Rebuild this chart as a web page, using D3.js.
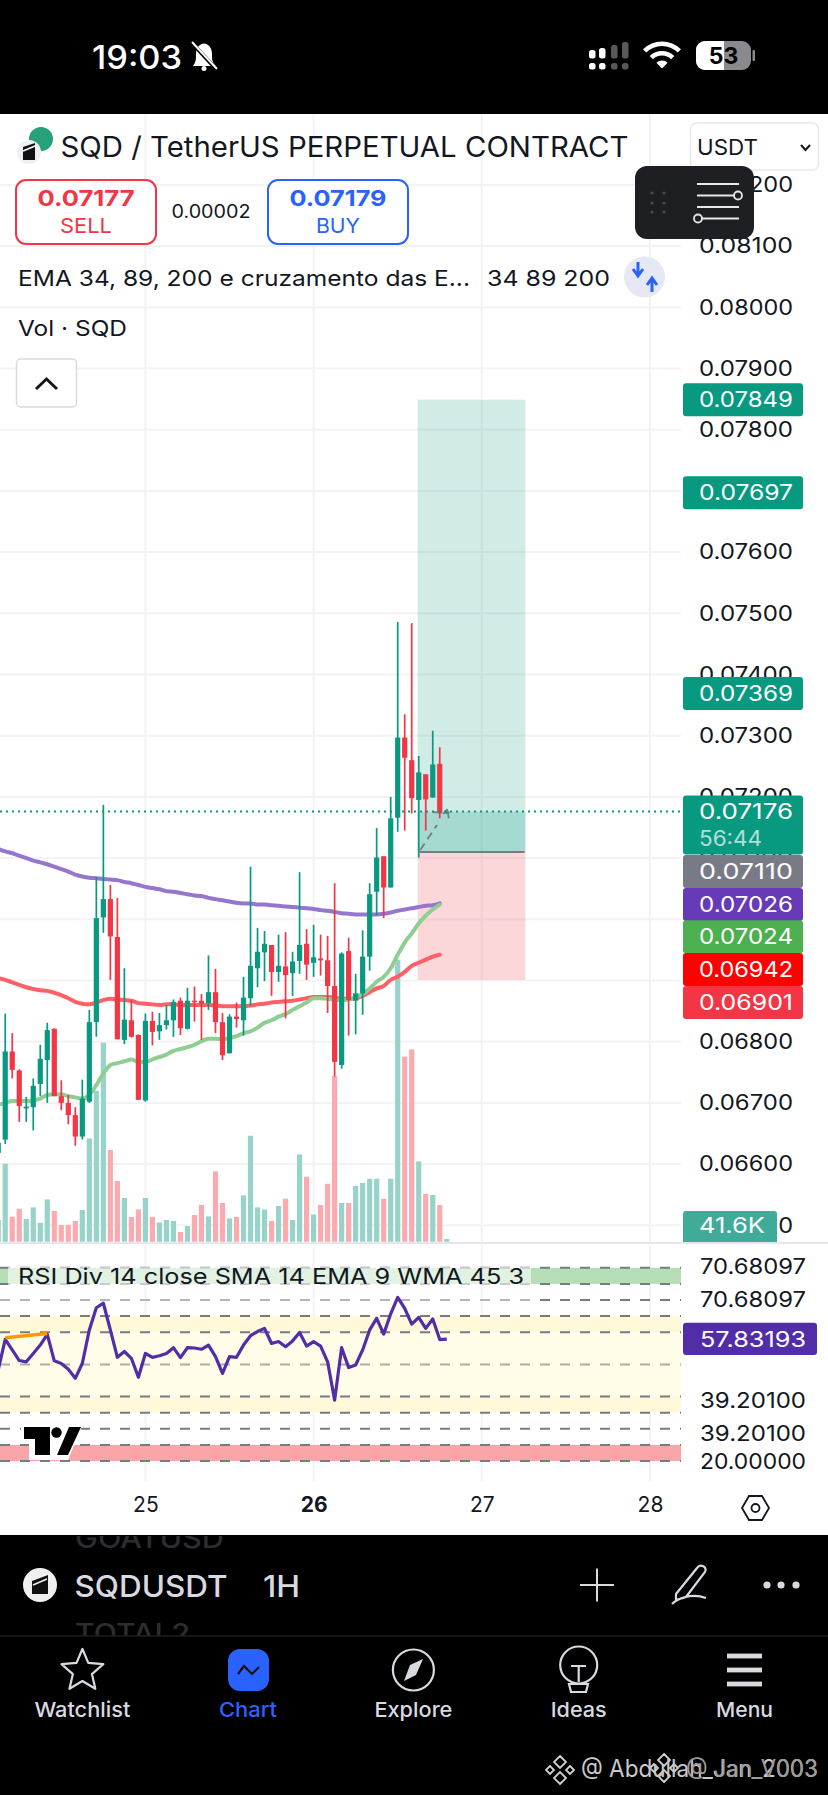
<!DOCTYPE html>
<html><head><meta charset="utf-8">
<script src="https://d3js.org/d3.v7.min.js"></script>
<style>html,body{margin:0;padding:0;background:#000}svg{display:block}text{font-family:Inter,"Noto Sans",sans-serif}</style>
</head><body><svg id="c" width="828" height="1795"></svg>
<script>
// prices are in units of 0.00001 USDT, hours are counted from the "26" day tick
const hours=d3.range(-45,20);
const opens=[6618,6640,6784,6753,6691,6693,6731,6770,6821,6711,6700,6680,6645,6702,6832,7003,7033,6971,6803,6835,6811,6704,6834,6817,6827,6835,6867,6821,6867,6867,6863,6881,6832,6781,6841,6835,6871,6920,6946,6958,6914,6923,6912,6932,6960,6929,6936,6933,6891,6762,6948,6867,6879,6939,7045,7103,7052,7166,7297,7260,7195,7237,7199,7254,7173];
const highs=[6635,6846,6814,6755,6710,6740,6795,6831,6822,6737,6713,6693,6738,6852,7069,7187,7056,7035,6920,6868,6812,6846,6849,6847,6860,6869,6872,6888,6890,6878,6941,6919,6847,6845,6864,6906,7086,6986,6981,6958,6975,6979,6947,7077,6984,6991,6975,6973,7059,6946,6970,6911,6982,7059,7149,7103,7200,7486,7335,7484,7267,7237,7308,7281,7180];
const lows=[6612,6633,6740,6669,6669,6655,6711,6700,6711,6688,6665,6630,6640,6700,6808,6978,6901,6804,6796,6807,6705,6702,6794,6803,6820,6808,6811,6820,6833,6803,6852,6814,6770,6781,6823,6810,6859,6889,6899,6875,6898,6838,6875,6911,6901,6906,6908,6847,6743,6756,6810,6812,6844,6916,7007,7002,7052,7143,7145,7173,7101,7145,7199,7165,7173];
const closes=[6635,6784,6754,6695,6694,6728,6772,6819,6711,6700,6680,6645,6707,6832,7002,7033,6972,6804,6836,6808,6705,6834,6816,6827,6835,6865,6822,6867,6865,6863,6881,6832,6778,6841,6837,6872,6924,6947,6960,6914,6924,6909,6931,6958,6926,6938,6933,6891,6767,6944,6868,6879,6939,7041,7101,7052,7165,7297,7264,7198,7240,7196,7253,7173,7176];
const volumes=[334,1201,385,508,350,528,293,651,473,257,257,319,488,1591,2325,3065,1412,935,673,380,497,673,380,297,334,319,149,242,411,565,390,1083,596,359,380,713,1632,528,497,319,550,662,334,1344,1001,420,565,893,2552,596,596,858,904,970,970,662,970,4343,2849,2961,1237,735,719,565,41.6];
const ema200=[7115,7111,7108,7104,7100,7096,7093,7090,7086,7082,7078,7073,7070,7068,7067,7066,7065,7064,7061,7059,7056,7053,7051,7049,7046,7045,7043,7041,7039,7038,7035,7033,7031,7029,7027,7026,7026,7024,7024,7023,7022,7021,7020,7019,7018,7017,7015,7014,7012,7010,7009,7008,7008,7008,7008,7009,7011,7014,7016,7018,7020,7022,7023,7026];
const ema89=[6904,6901,6897,6893,6889,6886,6884,6883,6880,6876,6871,6865,6862,6861,6864,6868,6870,6869,6868,6867,6863,6862,6861,6860,6861,6861,6860,6860,6860,6860,6860,6859,6858,6858,6858,6858,6859,6861,6862,6864,6865,6866,6867,6869,6871,6873,6873,6873,6872,6870,6870,6871,6875,6881,6887,6891,6901,6906,6914,6924,6929,6934,6939,6942];
const ema34=[6697,6700,6703,6703,6703,6704,6707,6713,6714,6714,6711,6709,6707,6713,6729,6748,6762,6765,6768,6771,6767,6767,6771,6775,6779,6785,6788,6791,6795,6801,6805,6805,6804,6806,6809,6814,6817,6823,6831,6835,6841,6845,6852,6858,6864,6871,6871,6870,6868,6868,6869,6873,6878,6887,6898,6906,6920,6942,6962,6977,6993,7006,7016,7024];
const rsiValues=[48.3,57.8,54.5,51.2,50.8,53.4,56.0,59.3,51.1,50.3,48.5,45.7,50.3,60.7,67.6,69.0,60.7,52.2,54.0,51.9,46.0,53.4,52.2,52.7,53.4,55.2,52.1,55.2,55.1,54.7,56.0,52.4,47.2,52.4,52.2,56.0,58.9,60.2,61.2,56.5,57.1,55.5,57.3,59.9,55.7,57.1,55.7,50.8,38.9,55.2,49.0,49.8,54.5,60.7,64.3,59.4,65.7,70.8,67.4,62.5,64.6,61.2,64.1,57.7,57.83];
const rsiDivHours=[-44,-38], rsiDivValues=[58.3,59.6];
const rsiLevels=[80,75,70,65,60,50,40,35,30,25,20];
const priceTicks=[8200,8100,8000,7900,7800,7700,7600,7500,7400,7300,7200,7100,7000,6900,6800,6700,6600,6500];
const dayHours=[-24,0,24,48], dayLabels=["25","26","27","28"];
const positionHours=[15,30.1], targetPrice=7849, entryPrice=7110, stopPrice=6901, lastPrice=7176;
const tradeHours=[[15.2,17.6],[17,17.9],[18.5,19.1],[19.1,19.4]], tradePrices=[[7113,7154],[7175,7175],[7172,7180],[7178,7158]];
const priceTags=[["0.07849",7849,"#089981"],["0.07697",7697,"#089981"],["0.07369",7369,"#089981"]];
const stackTags=[["0.07110",871.6,"#787b86"],["0.07026",904.4,"#673ab7"],["0.07024",936.8,"#4caf50"],["0.06942",969.6,"#ff0000"],["0.06901",1002.5,"#f23645"]];
const rsiTicks=[["70.68097",1266],["70.68097",1299],["39.20100",1400],["39.20100",1433],["20.00000",1461]];
const navItems=["Watchlist","Chart","Explore","Ideas","Menu"];

const W=681;
const x=d3.scaleLinear().domain([0,48]).range([313.6,650]);
const y=d3.scaleLinear().domain([7800,6500]).range([429.7,1225.3]);
const yVol=d3.scaleLinear().domain([0,4343]).range([1241.7,959.7]);
const yRsi=d3.scaleLinear().domain([20,70]).range([1461,1300]);
const svg=d3.select("#c");
const up="#089981",dn="#f23645",ink="#131722";
function T(px,py,s,o={}){const e=(o.parent||svg).append("text").attr("x",px).attr("y",py).text(s)
 .attr("font-size",o.size||20).attr("font-weight",o.weight||400).attr("fill",o.fill||ink).attr("text-anchor",o.anchor||"start");
 if(o.w)e.attr("textLength",o.w).attr("lengthAdjust","spacingAndGlyphs");return e;}
function R(px,py,w,h,fill,r=0,o=1){return svg.append("rect").attr("x",px).attr("y",py).attr("width",w).attr("height",h).attr("fill",fill).attr("rx",r).attr("fill-opacity",o);}

R(0,0,828,1795,"#000");
R(0,114,828,1421,"#fff");
svg.append("defs").append("clipPath").attr("id","pane").append("rect").attr("x",0).attr("y",114).attr("width",W).attr("height",1128);

// grids
const grid=svg.append("g").attr("stroke","#f3f3f4").attr("stroke-width",2);
grid.selectAll("line.h").data(priceTicks).join("line").attr("x1",0).attr("x2",W).attr("y1",d=>y(d)).attr("y2",d=>y(d));
grid.selectAll("line.v").data(dayHours).join("line").attr("x1",d=>x(d)).attr("x2",d=>x(d)).attr("y1",114).attr("y2",1481);

const pane=svg.append("g").attr("clip-path","url(#pane)");
// volume
pane.append("g").selectAll("rect").data(hours).join("rect")
 .attr("x",d=>x(d)-2.6).attr("width",5.2)
 .attr("y",(d,i)=>yVol(volumes[i])).attr("height",(d,i)=>yVol(0)-yVol(volumes[i]))
 .attr("fill",(d,i)=>closes[i]>=opens[i]?"#97d3c9":"#fbaab0");
// position tool
const px0=x(positionHours[0]),px1=x(positionHours[1]);
pane.append("rect").attr("x",px0-1).attr("width",px1-px0+1.8).attr("y",y(targetPrice)).attr("height",y(entryPrice)-y(targetPrice)).attr("fill",up).attr("fill-opacity",.19);
pane.append("rect").attr("x",px0-1).attr("width",px1-px0+1.8).attr("y",y(lastPrice)).attr("height",y(entryPrice)-y(lastPrice)).attr("fill",up).attr("fill-opacity",.22);
pane.append("rect").attr("x",px0-1).attr("width",px1-px0+1.8).attr("y",y(entryPrice)).attr("height",y(stopPrice)-y(entryPrice)).attr("fill",dn).attr("fill-opacity",.2);
pane.append("line").attr("x1",px0+1).attr("x2",px1).attr("y1",y(entryPrice)).attr("y2",y(entryPrice)).attr("stroke","#787b86").attr("stroke-width",2);
// EMAs
const line=d3.line().x((d,i)=>x(hours[i])).curve(d3.curveMonotoneX);
[[ema200,"#9575cd"],[ema89,"#ff5f66"],[ema34,"#8fce92"]].forEach(([a,c])=>{
 pane.append("path").attr("d",line.y(d=>y(d))(a)).attr("fill","none").attr("stroke",c).attr("stroke-width",4).attr("stroke-linecap","round");});
// candles
const candle=pane.append("g").selectAll("g").data(hours).join("g").attr("fill",(d,i)=>closes[i]>=opens[i]?up:dn);
candle.append("rect").attr("x",d=>x(d)-.85).attr("width",1.7).attr("y",(d,i)=>y(highs[i])).attr("height",(d,i)=>y(lows[i])-y(highs[i]));
candle.append("rect").attr("x",d=>x(d)-2.6).attr("width",5.2)
 .attr("y",(d,i)=>y(Math.max(opens[i],closes[i]))).attr("height",(d,i)=>Math.max(1.6,Math.abs(y(opens[i])-y(closes[i]))));
// trade path
pane.append("g").selectAll("line").data(tradeHours).join("line")
 .attr("x1",d=>x(d[0])).attr("x2",d=>x(d[1])).attr("y1",(d,i)=>y(tradePrices[i][0])).attr("y2",(d,i)=>y(tradePrices[i][1]))
 .attr("stroke","#787b86").attr("stroke-width",1.8).attr("stroke-dasharray","8 5");
// last price
pane.append("line").attr("x1",0).attr("x2",W).attr("y1",y(lastPrice)).attr("y2",y(lastPrice)).attr("stroke",up).attr("stroke-width",2).attr("stroke-dasharray","2 4");

// pane separator
svg.append("line").attr("x1",0).attr("x2",828).attr("y1",1243).attr("y2",1243).attr("stroke","#e4e5ee").attr("stroke-width",2);

// price axis
const ax=svg.append("g").attr("transform","translate(699,0)").call(d3.axisRight(y).tickValues(priceTicks).tickSize(0).tickPadding(0).tickFormat(d=>d3.format(".5f")(d/1e5)));
ax.select(".domain").remove();
ax.selectAll("text").attr("font-size",21).attr("fill",ink).attr("font-family","Inter").attr("x",0).attr("textLength",94).attr("lengthAdjust","spacingAndGlyphs");

// RSI pane
R(0,1244,W,1,"#fff");
R(0,yRsi(65),W,yRsi(35)-yRsi(65),"#fffde8");
R(0,yRsi(65),W,yRsi(60)-yRsi(65),"#fff8d9");
R(0,yRsi(40),W,yRsi(35)-yRsi(40),"#fff8d9");
R(0,yRsi(80),W,yRsi(75)-yRsi(80),"#b5deb6");
R(0,yRsi(25),W,yRsi(20)-yRsi(25),"#faa5a7");
svg.append("g").selectAll("line").data(rsiLevels).join("line").attr("x1",0).attr("x2",W).attr("y1",d=>yRsi(d)).attr("y2",d=>yRsi(d))
 .attr("stroke","#787b86").attr("stroke-width",2).attr("stroke-dasharray","10 10").attr("stroke-opacity",d=>d===50?.6:1);
R(0,1297,531,5,"#fff",0,.45);
R(8,1267,523,18,"#fff",0,.6);
const rl=d3.line().x((d,i)=>x(hours[i])).y(d=>yRsi(d)).curve(d3.curveLinear);
svg.append("path").attr("d",rl(rsiValues)).attr("fill","none").attr("stroke","#512da8").attr("stroke-width",3.2).attr("stroke-linejoin","round");
svg.append("path").attr("d",d3.line().x(d=>x(d[0])).y(d=>yRsi(d[1]))(rsiDivHours.map((h,i)=>[h,rsiDivValues[i]]))).attr("fill","none").attr("stroke","#ff9800").attr("stroke-width",3.6);
T(18,1284,"RSI Div 14 close SMA 14 EMA 9 WMA 45 3",{size:22,w:506});
// TV logo
svg.append("path").attr("d","M21,1424H83L68,1460H29V1442H21Z").attr("fill","#fff");
svg.append("path").attr("d","M24,1427H50V1455H35V1439H24Z").attr("fill","#000");
svg.append("circle").attr("cx",56.5).attr("cy",1432.5).attr("r",5.2).attr("fill","#000");
svg.append("path").attr("d","M57,1455L69,1427H81L68,1455Z").attr("fill","#000");

// axis tags
function tag(label,cy,c,h=33){R(683,cy-h/2,120,h,c,3);T(699,cy+7.5,label,{size:21,fill:"#fff",w:94});}
priceTags.forEach(d=>tag(d[0],y(d[1]),d[2]));
R(683,795.4,120,59,up,3);
T(699,y(lastPrice)+7.5,"0.07176",{size:21,fill:"#fff",w:94});
T(699,846,"56:44",{size:21,fill:"#fff",w:63}).attr("fill-opacity",.7);
stackTags.forEach(d=>tag(d[0],d[1],d[2]));
svg.append("clipPath").attr("id","vc").append("rect").attr("x",600).attr("y",1190).attr("width",228).attr("height",52);
const vt=svg.append("g").attr("clip-path","url(#vc)");
vt.append("rect").attr("x",683).attr("y",1211).attr("width",94).attr("height",33).attr("rx",3).attr("fill","#40ab99");
T(699,1233,"41.6K",{size:21,fill:"#fff",w:66,parent:vt});
// RSI axis
R(683,1322.7,134,32.3,"#512da8",3);
T(700,1347,"57.83193",{size:21,fill:"#fff",w:106});
rsiTicks.forEach(d=>T(700,d[1]+7.5,d[0],{size:21,w:106}));
// time axis
const tx=svg.append("g").attr("transform","translate(0,1497)").call(d3.axisBottom(x).tickValues(dayHours).tickSize(0).tickPadding(0).tickFormat((d,i)=>dayLabels[i]));
tx.select(".domain").remove();
tx.selectAll("text").attr("font-size",21).attr("font-family","Inter").attr("fill",ink).attr("font-weight",(d,i)=>i===1?700:400);
svg.append("path").attr("d","M742,1508L749,1496H762L769,1508L762,1520H749Z").attr("fill","none").attr("stroke",ink).attr("stroke-width",1.8);
svg.append("circle").attr("cx",755.5).attr("cy",1508).attr("r",4).attr("fill","none").attr("stroke",ink).attr("stroke-width",1.8);

// header
svg.append("circle").attr("cx",41).attr("cy",139).attr("r",12).attr("fill","#26a17b");
svg.append("circle").attr("cx",29).attr("cy",152).attr("r",12).attr("fill","#eef0f3");
svg.append("path").attr("d","M23,147L35,143V160H23Z").attr("fill","#111");
svg.append("path").attr("d","M23,151L35,146").attr("stroke","#fff").attr("stroke-width",1.5);
T(60.5,157,"SQD / TetherUS PERPETUAL CONTRACT",{size:28,w:568});
svg.append("rect").attr("x",690.5).attr("y",123).attr("width",128).attr("height",47).attr("rx",6).attr("fill","#fff").attr("stroke","#e6e8ee").attr("stroke-width",1.5);
T(697,155,"USDT",{size:22,w:61});
svg.append("path").attr("d","M801,145L805.5,150L810,145").attr("fill","none").attr("stroke",ink).attr("stroke-width",2);
// sell / buy
[[16,140,dn,"0.07177","SELL"],[268,140,"#2962ff","0.07179","BUY"]].forEach(([bx,bw,c,p,l])=>{
 svg.append("rect").attr("x",bx).attr("y",180).attr("width",bw).attr("height",64).attr("rx",10).attr("fill","#fff").attr("stroke",c).attr("stroke-width",2);
 T(bx+bw/2,206,p,{size:22,weight:700,fill:c,anchor:"middle",w:97});
 T(bx+bw/2,233,l,{size:20,fill:c,anchor:"middle",w:l==="SELL"?52:44});
});
T(211,218,"0.00002",{size:18,anchor:"middle",w:79});
T(18,286,"EMA 34, 89, 200 e cruzamento das E...",{size:22,w:452});
T(487,286,"34 89 200",{size:22,w:123});
svg.append("circle").attr("cx",644.5).attr("cy",277).attr("r",20.5).attr("fill","#e6e8f3");
svg.append("path").attr("d","M638,262V274M633,269L638,276L643,269").attr("fill","none").attr("stroke","#2962ff").attr("stroke-width",3);
svg.append("path").attr("d","M652,292V280M647,285L652,278L657,285").attr("fill","none").attr("stroke","#2962ff").attr("stroke-width",3);
T(18,336,"Vol · SQD",{size:22,w:109});
svg.append("rect").attr("x",16.5).attr("y",359).attr("width",60).attr("height",48).attr("rx",4).attr("fill","#fff").attr("stroke","#d8dae2").attr("stroke-width",1.5);
svg.append("path").attr("d","M36,389L46.5,379L57,389").attr("fill","none").attr("stroke",ink).attr("stroke-width",3);
// floating dark box
R(635,166,119,73,"#1e1f23",12);
svg.append("g").attr("fill","#4a4b50").selectAll("circle").data(d3.cross([652,664],[193,203,212])).join("circle").attr("cx",d=>d[0]).attr("cy",d=>d[1]).attr("r",1.6);
const sl=svg.append("g").attr("stroke","#e8e8e8").attr("stroke-width",1.8).attr("fill","#1e1f23");
[184,195.5,207,218.5].forEach(v=>sl.append("line").attr("x1",697).attr("x2",739).attr("y1",v).attr("y2",v));
sl.append("circle").attr("cx",738).attr("cy",195.5).attr("r",4);
sl.append("circle").attr("cx",698).attr("cy",218.5).attr("r",4);

// status bar
T(92,69,"19:03",{size:32,weight:500,fill:"#fff",w:90});
const bell=svg.append("g").attr("fill","#fff");
bell.append("path").attr("d","M193,66C196,62 196,60 196,54C196,47 200,44 204,43.5C208,44 212,47 212,54C212,60 212,62 216,66Z");
bell.append("circle").attr("cx",204).attr("cy",68.5).attr("r",2.5);
svg.append("path").attr("d","M192,43L217,70").attr("stroke","#000").attr("stroke-width",4);
svg.append("path").attr("d","M192,42L217,69").attr("stroke","#fff").attr("stroke-width",2);
[[589,50,1],[599,48,1],[611,45,.35],[622,42,.35]].forEach(([sx,sy,o])=>{
 R(sx,sy,6.5,58.5-sy,"#fff",2.5,o);R(sx,63,6.5,6.5,"#fff",2.5,o);});
const wifi=svg.append("g").attr("transform","translate(662,68.5)");
[[8],[17.5],[27]].forEach(([r])=>{wifi.append("path").attr("d",d3.arc()({innerRadius:r-(r==8?8:4.6),outerRadius:r,startAngle:-.78,endAngle:.78})).attr("fill","#fff");});
R(696,41,55,29,"#8a8a8e",9);
svg.append("clipPath").attr("id","bat").append("rect").attr("x",696).attr("y",41).attr("width",28).attr("height",29);
svg.append("g").attr("clip-path","url(#bat)").append("rect").attr("x",696).attr("y",41).attr("width",55).attr("height",29).attr("rx",9).attr("fill","#fff");
R(752.5,50,2.5,11,"#8a8a8e",1);
T(723.5,64,"53",{size:23,weight:700,fill:"#000",anchor:"middle"});

// bottom
svg.append("clipPath").attr("id","gh").append("rect").attr("x",0).attr("y",1536).attr("width",828).attr("height",100);
const gh=svg.append("g").attr("clip-path","url(#gh)");
T(75,1548,"GOATUSD",{size:27,fill:"#2c2d31",weight:500,parent:gh,w:149});
T(75,1643,"TOTAL2",{size:27,fill:"#2c2d31",weight:500,parent:gh,w:115});
svg.append("ellipse").attr("cx",40).attr("cy",1585).attr("rx",17).attr("ry",17).attr("fill","#f0f0f0");
svg.append("path").attr("d","M32,1581L48,1575V1594H32Z").attr("fill","#111");
svg.append("path").attr("d","M33,1585L47,1579").attr("stroke","#f0f0f0").attr("stroke-width",1.5);
T(74.5,1597,"SQDUSDT",{size:30,weight:500,fill:"#d8dae0",w:153});
T(263,1597,"1H",{size:30,weight:500,fill:"#d8dae0",w:37});
svg.append("path").attr("d","M580,1585H614M597,1568.5V1601.5").attr("stroke","#d8dae0").attr("stroke-width",2);
svg.append("path").attr("d","M676,1594L697,1568C700,1563 708,1567 705,1572L686,1597L676,1600ZM672,1604C676,1600 690,1592 706,1598").attr("fill","none").attr("stroke","#d8dae0").attr("stroke-width",2.2);
[767,781,796].forEach(v=>svg.append("circle").attr("cx",v).attr("cy",1585).attr("r",3.6).attr("fill","#d8dae0"));
svg.append("line").attr("x1",0).attr("x2",828).attr("y1",1636).attr("y2",1636).attr("stroke","#1c1d20").attr("stroke-width",1.5);
const navX=[82.4,248,413.4,578.7,744.5], navC="#d8dae0";
navItems.forEach((n,i)=>T(navX[i],1717,n,{size:20.5,weight:500,anchor:"middle",fill:n==="Chart"?"#2962ff":navC,w:[96,58,78,56,57][i]}));
const star=d3.range(10).map(i=>{const r=i%2?10:22,a=i*Math.PI/5;return [82.4+r*Math.sin(a),1671-r*Math.cos(a)];});
svg.append("path").attr("d",d3.line()(star)+"Z").attr("fill","none").attr("stroke",navC).attr("stroke-width",2.2).attr("stroke-linejoin","round");
R(228,1649,41,42,"#2962ff",12);
svg.append("path").attr("d","M238,1674L244,1666L252,1674L259,1667").attr("fill","none").attr("stroke","#111").attr("stroke-width",2.2);
svg.append("circle").attr("cx",413.4).attr("cy",1670).attr("r",20.5).attr("fill","none").attr("stroke",navC).attr("stroke-width",2.2);
svg.append("path").attr("d","M423,1659L416,1675L404,1681L410,1665Z").attr("fill",navC);
svg.append("circle").attr("cx",578.7).attr("cy",1665).attr("r",18.5).attr("fill","none").attr("stroke",navC).attr("stroke-width",2.2);
svg.append("path").attr("d","M571,1666H586M578.7,1666V1682M569,1684H588L586,1692H571Z").attr("fill","none").attr("stroke",navC).attr("stroke-width",2.2);
[1656,1670,1684].forEach(v=>R(727,v-2.4,35,4.8,navC));
// watermark
[[560,1770],[664,1768]].forEach(([dx,dy])=>{svg.append("path").attr("d",`M${dx},${dy-14}l6,6l-6,6l-6,-6ZM${dx-14},${dy}l4,-4l4,4l-4,4ZM${dx+14},${dy}l-4,-4l-4,4l4,4ZM${dx},${dy+14}l6,-6l-6,-6l-6,6Z`).attr("fill","none").attr("stroke","#d0d0d0").attr("stroke-width",1.8);});
T(581,1777,"@ Abdullah_Jan_2003",{size:24,fill:"#c9c9c9",w:237});
T(686,1777,"@ Jan_V003",{size:24,fill:"#9a9a9a",w:132});
</script></body></html>
